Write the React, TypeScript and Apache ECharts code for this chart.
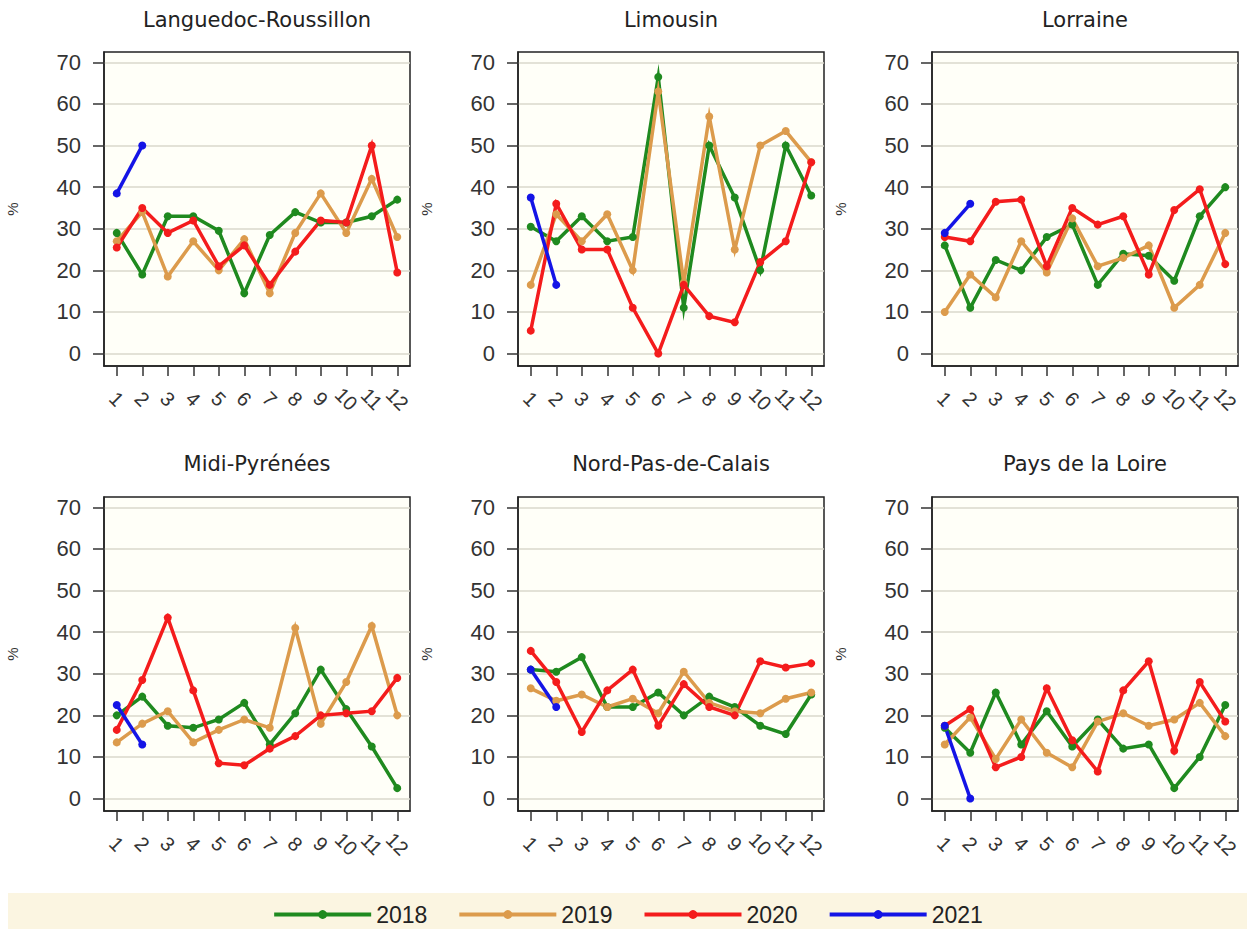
import { useEffect, useRef } from "react";
import * as echarts from "echarts";

const months = ["1", "2", "3", "4", "5", "6", "7", "8", "9", "10", "11", "12"];
const years = ["2018", "2019", "2020", "2021"];
const yearColors = ["#1f8a1f", "#dc9b4c", "#f41c1c", "#1414e6"];
const regions = [
  "Languedoc-Roussillon",
  "Limousin",
  "Lorraine",
  "Midi-Pyrénées",
  "Nord-Pas-de-Calais",
  "Pays de la Loire",
];
const yTicks = [0, 10, 20, 30, 40, 50, 60, 70];

// one row per year: 2018, 2019, 2020, 2021 (2021 only Jan-Feb)
const languedocRoussillon = [
  [29, 19, 33, 33, 29.5, 14.5, 28.5, 34, 31.5, 31.5, 33, 37],
  [27, 34, 18.5, 27, 20, 27.5, 14.5, 29, 38.5, 29, 42, 28],
  [25.5, 35, 29, 32, 21, 26, 16.5, 24.5, 32, 31.5, 50, 19.5],
  [38.5, 50],
];
const limousin = [
  [30.5, 27, 33, 27, 28, 66.5, 11, 50, 37.5, 20, 50, 38],
  [16.5, 33.5, 27, 33.5, 20, 63, 17, 57, 25, 50, 53.5, 46],
  [5.5, 36, 25, 25, 11, 0, 16.5, 9, 7.5, 22, 27, 46],
  [37.5, 16.5],
];
const lorraine = [
  [26, 11, 22.5, 20, 28, 31, 16.5, 24, 23.5, 17.5, 33, 40],
  [10, 19, 13.5, 27, 19.5, 32.5, 21, 23, 26, 11, 16.5, 29],
  [28, 27, 36.5, 37, 21, 35, 31, 33, 19, 34.5, 39.5, 21.5],
  [29, 36],
];
const midiPyrenees = [
  [20, 24.5, 17.5, 17, 19, 23, 13, 20.5, 31, 21.5, 12.5, 2.5],
  [13.5, 18, 21, 13.5, 16.5, 19, 17, 41, 18, 28, 41.5, 20],
  [16.5, 28.5, 43.5, 26, 8.5, 8, 12, 15, 20, 20.5, 21, 29],
  [22.5, 13],
];
const nordPasDeCalais = [
  [31, 30.5, 34, 22, 22, 25.5, 20, 24.5, 22, 17.5, 15.5, 25],
  [26.5, 23.5, 25, 22, 24, 20.5, 30.5, 23, 21, 20.5, 24, 25.5],
  [35.5, 28, 16, 26, 31, 17.5, 27.5, 22, 20, 33, 31.5, 32.5],
  [31, 22],
];
const paysDeLaLoire = [
  [17, 11, 25.5, 13, 21, 12.5, 19, 12, 13, 2.5, 10, 22.5],
  [13, 19.5, 9.5, 19, 11, 7.5, 18.5, 20.5, 17.5, 19, 23, 15],
  [17.5, 21.5, 7.5, 10, 26.5, 14, 6.5, 26, 33, 11.5, 28, 18.5],
  [17.5, 0],
];
const regionData = [
  languedocRoussillon,
  limousin,
  lorraine,
  midiPyrenees,
  nordPasDeCalais,
  paysDeLaLoire,
];

const colLefts = [104, 518, 932];
const rowTops = [52, 497];
const gridW = 306;
const gridH = 314;
const sans = "'Liberation Sans', Arial, sans-serif";

export default function App() {
  const ref = useRef<HTMLDivElement | null>(null);

  useEffect(() => {
    if (!ref.current) return;
    const chart = echarts.init(ref.current, undefined, { renderer: "svg" });

    const grids = regions.map((_, i) => ({
      left: colLefts[i % 3],
      top: rowTops[Math.floor(i / 3)],
      width: gridW,
      height: gridH,
      show: true,
      backgroundColor: "#fffff8",
      borderColor: "#222",
      borderWidth: 1.5,
    }));

    const titles = regions.map((name, i) => ({
      text: name,
      left: colLefts[i % 3] + gridW / 2,
      top: i < 3 ? 9 : 453,
      textAlign: "center",
      padding: 0,
      textStyle: {
        fontSize: 21,
        fontWeight: "normal",
        color: "#222",
        fontFamily: "'DejaVu Sans', sans-serif",
      },
    }));

    const xAxes = regions.map((_, i) => ({
      type: "category",
      gridIndex: i,
      data: months,
      boundaryGap: true,
      axisLine: { show: true, onZero: false, lineStyle: { color: "#222", width: 1.5 } },
      axisTick: { show: true, alignWithLabel: true, length: 10, lineStyle: { color: "#333", width: 1.5 } },
      axisLabel: {
        interval: 0,
        rotate: -45,
        align: "center",
        verticalAlign: "middle",
        margin: 33,
        fontSize: 20,
        color: "#333",
        fontFamily: sans,
      },
      splitLine: { show: false },
    }));

    const yAxes = regions.map((_, i) => ({
      type: "value",
      gridIndex: i,
      min: -3,
      max: 72.5,
      name: "%",
      nameLocation: "middle",
      nameRotate: 90,
      nameGap: 84,
      nameTextStyle: { fontSize: 15, color: "#333", fontFamily: sans },
      axisLine: { show: true, lineStyle: { color: "#222", width: 1.5 } },
      axisTick: { show: true, length: 11, customValues: yTicks, lineStyle: { color: "#333", width: 1.5 } },
      axisLabel: { customValues: yTicks, margin: 23, fontSize: 22, color: "#333", fontFamily: sans },
      splitLine: { show: true, lineStyle: { color: "#dad9cd", width: 1.5 } },
    }));

    const series: any[] = [];
    regionData.forEach((rows, i) => {
      rows.forEach((vals, j) => {
        series.push({
          type: "line",
          name: years[j],
          xAxisIndex: i,
          yAxisIndex: i,
          data: vals,
          symbol: "circle",
          symbolSize: 8,
          color: yearColors[j],
          lineStyle: { width: 3.5, color: yearColors[j], join: "miter", miterLimit: 12 },
          itemStyle: { color: yearColors[j] },
          emphasis: { disabled: true },
        });
      });
    });

    chart.setOption({
      animation: false,
      textStyle: { fontFamily: sans },
      title: titles,
      grid: grids,
      xAxis: xAxes,
      yAxis: yAxes,
      series,
      legend: {
        data: years,
        left: "center",
        top: 898,
        itemWidth: 97,
        itemHeight: 11,
        itemGap: 30,
        z: 10,
        lineStyle: { width: 4 },
        textStyle: { fontSize: 23, color: "#222", fontFamily: sans },
      },
      graphic: [
        {
          type: "rect",
          z: 0,
          shape: { x: 8, y: 893, width: 1239, height: 36 },
          style: { fill: "#fbf5e1" },
        },
      ],
    });

    return () => chart.dispose();
  }, []);

  return (
    <div
      ref={ref}
      style={{ position: "fixed", left: 0, top: 0, width: 1255, height: 929, background: "#fff" }}
    />
  );
}
